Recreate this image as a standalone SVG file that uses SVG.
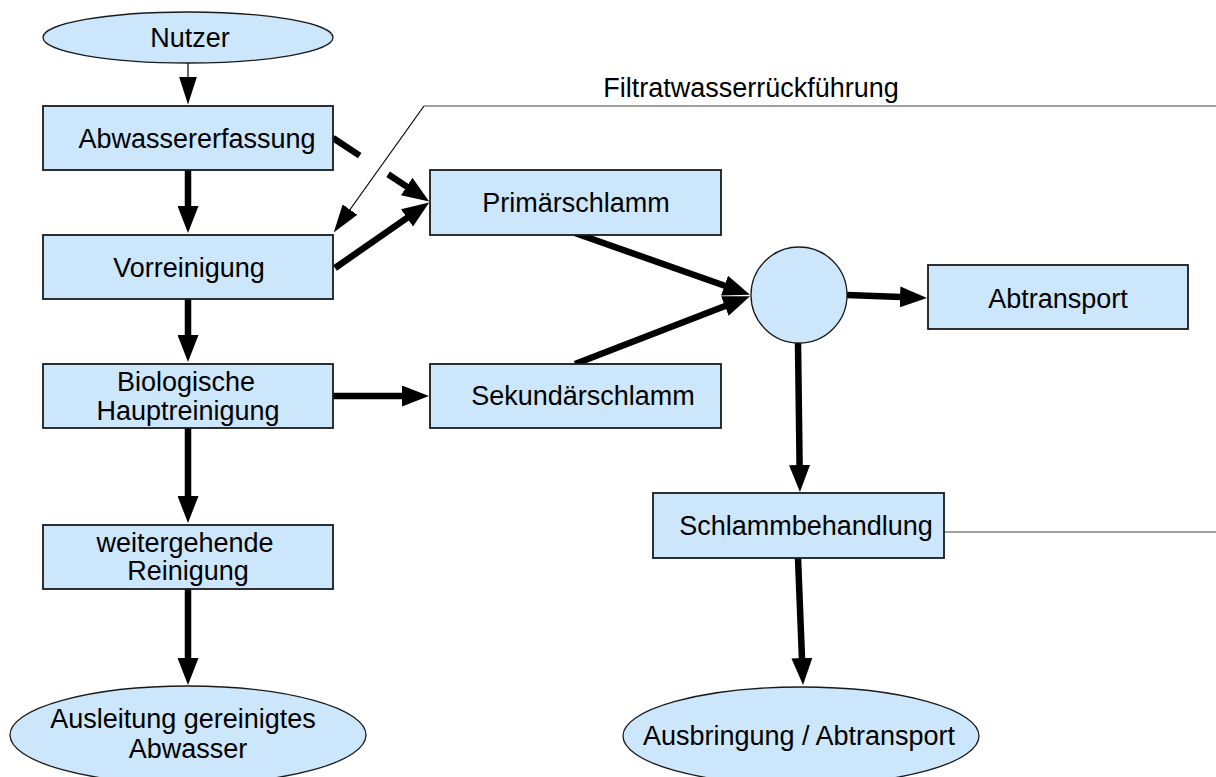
<svg xmlns="http://www.w3.org/2000/svg" width="1216" height="777" viewBox="0 0 1216 777">
<style>
.box{fill:#cce6fc;stroke:#1a1a1a;stroke-width:1.8}
.ell{fill:#cce6fc;stroke:#1a1a1a;stroke-width:1.3}
.t{font-family:"Liberation Sans",Arial,sans-serif;font-size:27px;fill:#000;text-anchor:middle}
.thick{stroke:#000;stroke-width:6.5;fill:none}
.thin{stroke:#000;stroke-width:1.2;fill:none}
.grey{stroke:#808080;stroke-width:1.6;fill:none}
</style>
<defs>
<marker id="ah" markerUnits="userSpaceOnUse" markerWidth="28" markerHeight="21" refX="1" refY="10.5" orient="auto"><path d="M0,0 L27,10.5 L0,21 z" fill="#000"/></marker>
<marker id="ahThin" markerUnits="userSpaceOnUse" markerWidth="28" markerHeight="18" refX="0.5" refY="9" orient="auto"><path d="M0,0 L28,9 L0,18 z" fill="#000"/></marker>
</defs>
<rect width="1216" height="777" fill="#fff"/>
<g id="connectors">
<line class="thin" x1="188" y1="63" x2="188" y2="77" marker-end="url(#ahThin)"/>
<line class="thick" x1="188" y1="170" x2="188" y2="207" marker-end="url(#ah)"/>
<line class="thick" x1="188" y1="299" x2="188" y2="336" marker-end="url(#ah)"/>
<line class="thick" x1="188" y1="428" x2="188" y2="497" marker-end="url(#ah)"/>
<line class="thick" x1="188" y1="589" x2="188" y2="659" marker-end="url(#ah)"/>
<line class="thick" x1="333" y1="396" x2="403" y2="396" marker-end="url(#ah)"/>
<line class="thick" x1="335" y1="268" x2="407.8" y2="217.4" marker-end="url(#ah)"/>
<line class="thick" x1="333" y1="138" x2="407.5" y2="187.1" stroke-dasharray="32 34 40" marker-end="url(#ah)"/>
<line class="thick" x1="575" y1="233" x2="725.5" y2="286" marker-end="url(#ah)"/>
<line class="thick" x1="575" y1="364" x2="725.8" y2="305.7" marker-end="url(#ah)"/>
<line class="thick" x1="847" y1="295" x2="901" y2="297" marker-end="url(#ah)"/>
<line class="thick" x1="798" y1="343" x2="799.6" y2="466" marker-end="url(#ah)"/>
<line class="thick" x1="798" y1="558" x2="802" y2="659" marker-end="url(#ah)"/>
<line class="grey" x1="944" y1="532" x2="1216" y2="532"/>
<line class="grey" x1="424" y1="106" x2="1216" y2="106"/>
<line class="thin" stroke="#333" x1="424" y1="106" x2="349.7" y2="210" marker-end="url(#ahThin)"/>
<text class="t" x="751" y="97">Filtratwasserrückführung</text>
</g>
<g id="nutzer"><ellipse class="ell" cx="188" cy="37.5" rx="145" ry="25.5"/><text class="t" x="190" y="47">Nutzer</text></g>
<g id="abwassererfassung"><rect class="box" x="43" y="106" width="290" height="64"/><text class="t" x="197" y="148">Abwassererfassung</text></g>
<g id="vorreinigung"><rect class="box" x="43" y="235" width="290" height="64"/><text class="t" x="189" y="277">Vorreinigung</text></g>
<g id="biologische"><rect class="box" x="43" y="364" width="290" height="64"/><text class="t" x="186" y="391">Biologische</text><text class="t" x="188" y="420">Hauptreinigung</text></g>
<g id="weitergehende"><rect class="box" x="43" y="525" width="290" height="64"/><text class="t" x="185" y="552">weitergehende</text><text class="t" x="188" y="580">Reinigung</text></g>
<g id="ausleitung"><ellipse class="ell" cx="188" cy="735" rx="178" ry="49"/><text class="t" x="183" y="728">Ausleitung gereinigtes</text><text class="t" x="188" y="758">Abwasser</text></g>
<g id="primaerschlamm"><rect class="box" x="430" y="170" width="291" height="65"/><text class="t" x="576" y="212">Primärschlamm</text></g>
<g id="sekundaerschlamm"><rect class="box" x="430" y="364" width="291" height="64"/><text class="t" x="583" y="405">Sekundärschlamm</text></g>
<g id="sammler"><circle class="ell" cx="799" cy="295" r="48"/></g>
<g id="abtransport"><rect class="box" x="928" y="265" width="260" height="64"/><text class="t" x="1058" y="308">Abtransport</text></g>
<g id="schlammbehandlung"><rect class="box" x="653" y="493" width="291" height="65"/><text class="t" x="806" y="535">Schlammbehandlung</text></g>
<g id="ausbringung"><ellipse class="ell" cx="801" cy="736" rx="178" ry="49"/><text class="t" x="799" y="745">Ausbringung / Abtransport</text></g>
</svg>
